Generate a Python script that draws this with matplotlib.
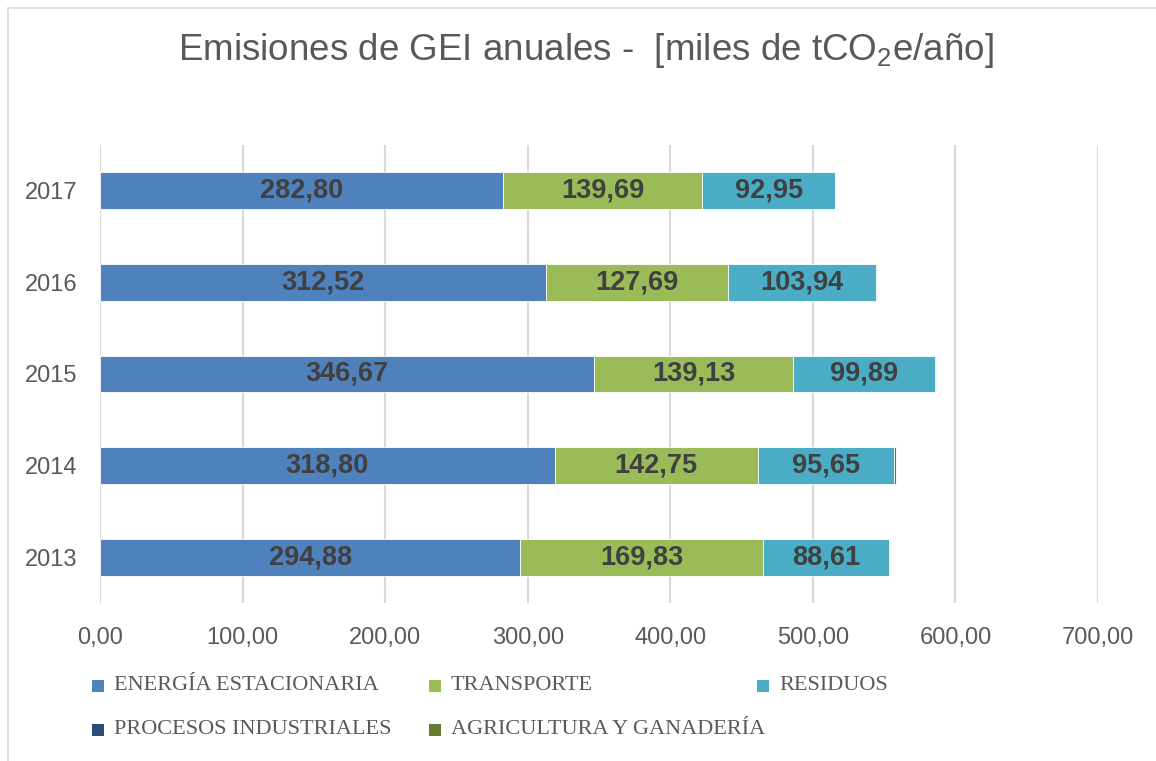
import matplotlib
matplotlib.use("Agg")
import matplotlib.pyplot as plt
from matplotlib.patches import Rectangle
import numpy as np

plt.rcParams["mathtext.fontset"] = "custom"
plt.rcParams["mathtext.rm"] = "Liberation Sans"
plt.rcParams["mathtext.it"] = "Liberation Sans"
plt.rcParams["mathtext.bf"] = "Liberation Sans:bold"

years = ["2013", "2014", "2015", "2016", "2017"]
energia = [294.88, 318.80, 346.67, 312.52, 282.80]
transporte = [169.83, 142.75, 139.13, 127.69, 139.69]
residuos = [88.61, 95.65, 99.89, 103.94, 92.95]
procesos = [0.0, 0.0, 0.0, 0.0, 0.0]
agricultura = [1.0, 1.0, 1.0, 1.0, 0.3]
series_names = ["ENERGÍA ESTACIONARIA", "TRANSPORTE", "RESIDUOS",
                "PROCESOS INDUSTRIALES", "AGRICULTURA Y GANADERÍA"]
colors = ["#4F81BD", "#9BBB59", "#4BACC6", "#2C4D75", "#647A31"]
xticks = [0, 100, 200, 300, 400, 500, 600, 700]

W, H = 1156, 761
fig = plt.figure(figsize=(W / 100, H / 100), dpi=100)
fig.patch.set_facecolor("white")
ax = fig.add_axes([100 / W, 1 - 603 / H, 998 / W, 458 / H])

# figure border
fig.add_artist(Rectangle((8 / W, -0.05), 1.1, 1 - 8 / H + 0.05, transform=fig.transFigure,
                         fill=False, edgecolor="#D9D9D9", linewidth=1.2))

y = np.arange(len(years))
data = [energia, transporte, residuos, procesos, agricultura]
left = np.zeros(len(years))
for i, (vals, c) in enumerate(zip(data, colors)):
    vals = np.array(vals)
    ax.barh(y, vals, left=left, height=0.40, color=c, edgecolor="white",
            linewidth=0.6, zorder=3)
    if i < 3:
        for xi, (l, v) in enumerate(zip(left, vals)):
            ax.text(l + v / 2, y[xi], f"{v:.2f}".replace(".", ","), ha="center", va="center",
                    fontsize=19.5, fontweight="bold", color="#404040", zorder=4,
                    family="Liberation Sans")
    left = left + vals

ax.set_xlim(0, 700)
ax.set_ylim(-0.5, 4.5)
ax.set_xticks(xticks)
ax.set_xticklabels([f"{v:.2f}".replace(".", ",") for v in xticks])
ax.set_yticks(y)
ax.set_yticklabels(years)
for lab in ax.get_xticklabels() + ax.get_yticklabels():
    lab.set_fontsize(17)
    lab.set_color("#595959")
    lab.set_family("Liberation Sans")
ax.tick_params(axis="both", length=0)
ax.tick_params(axis="x", pad=17)
ax.tick_params(axis="y", pad=16)
for s in ax.spines.values():
    s.set_visible(False)
ax.grid(axis="x", color="#D9D9D9", linewidth=1.5, zorder=0)
ax.set_axisbelow(True)

fig.text(586 / W, 1 - 50 / H, r"Emisiones de GEI anuales -  [miles de tCO$_2$e/año]",
         ha="center", va="center", fontsize=26.5, color="#595959", family="Liberation Sans")

# legend (Excel row-major layout)
leg_pos = [(92, 686), (429, 686), (757, 686), (92, 730), (429, 730)]
for (px, py), name, c in zip(leg_pos, series_names, colors):
    fig.add_artist(Rectangle((px / W, 1 - (py + 6) / H), 12 / W, 12 / H,
                             transform=fig.transFigure, facecolor=c, edgecolor="none"))
    fig.text((px + 22) / W, 1 - py / H, name, ha="left", va="center", fontsize=16,
             color="#595959", family="Liberation Serif")

fig.savefig("out.png", dpi=100)
